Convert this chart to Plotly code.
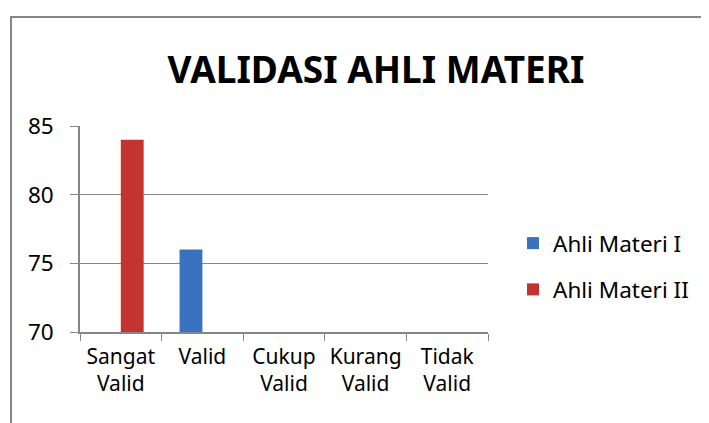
import plotly.graph_objects as go

categories = ["Sangat<br>Valid", "Valid", "Cukup<br>Valid", "Kurang<br>Valid", "Tidak<br>Valid"]
ahli_materi_1 = [None, 76, None, None, None]
ahli_materi_2 = [84, None, None, None, None]
y_ticks = [70, 75, 80, 85]

OFF = 8  # page body margin
W, H = 701, 415
L, R, T, B = 72, 221, 118, 91
pw, ph = W - L - R, H - T - B

def px_x(x):
    return (x - OFF - L) / pw

def px_y(y):
    return (H - B - (y - OFF)) / ph

font = "Noto Sans, Open Sans, sans-serif"

fig = go.Figure()
fig.add_trace(go.Bar(x=categories, y=ahli_materi_1, name="Ahli Materi I",
                     marker=dict(color="#3A72C0", line=dict(width=0)),
                     legendgroup="a"))
fig.add_trace(go.Bar(x=categories, y=ahli_materi_2, name="Ahli Materi II",
                     marker=dict(color="#C3332F", line=dict(width=0)),
                     legendgroup="b"))

fig.update_layout(
    width=W, height=H,
    margin=dict(l=L, r=R, t=T, b=B, autoexpand=False),
    paper_bgcolor="white", plot_bgcolor="white",
    barmode="group", bargap=0.44, bargroupgap=0,
    font=dict(family=font, size=21, color="#000000"),
    title=dict(text="<b>VALIDASI AHLI MATERI</b>", x=(376 - OFF) / W, xanchor="center",
               y=1 - (70 - OFF) / H, yanchor="middle", yref="container",
               font=dict(family=font, size=37, color="#000000")),
    legend=dict(x=px_x(513), xanchor="left", y=px_y(222), yanchor="top",
                font=dict(size=22.5), tracegroupgap=14, itemwidth=30,
                bgcolor="rgba(0,0,0,0)"),
    xaxis=dict(type="category", showgrid=False, showline=True, linecolor="#868686",
               linewidth=1.5, ticks="outside", tickson="boundaries", ticklen=7,
               tickcolor="#868686", tickfont=dict(size=21), ticklabelstandoff=5,
               tickangle=0, automargin=False),
    yaxis=dict(range=[70, 85], tickvals=y_ticks, showgrid=True, gridcolor="#868686",
               gridwidth=1, showline=True, linecolor="#868686", linewidth=1.5,
               ticks="outside", ticklen=8, tickcolor="#868686",
               tickfont=dict(size=22.5), zeroline=False, ticklabelstandoff=12,
               automargin=False),
    shapes=[dict(type="rect", xref="paper", yref="paper",
                 x0=px_x(11), x1=px_x(740), y0=px_y(450), y1=px_y(17),
                 line=dict(color="#868686", width=2), layer="below")],
)

fig.write_html("out.html")
